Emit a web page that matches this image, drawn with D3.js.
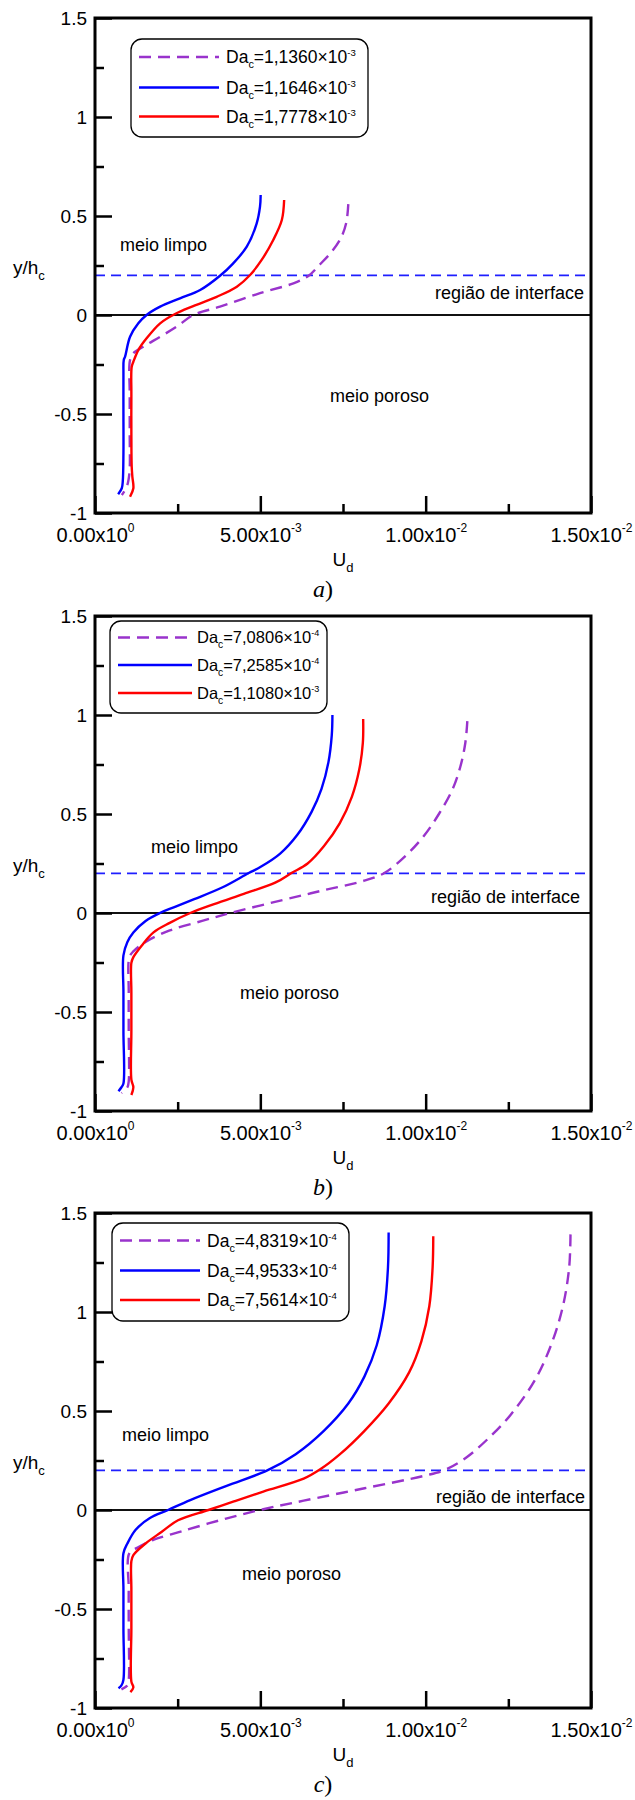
<!DOCTYPE html>
<html>
<head>
<meta charset="utf-8">
<script src="https://cdn.jsdelivr.net/npm/d3@7"></script>
<style>
    body { margin: 0; background: #fff; }
    svg { display: block; font-family: "Liberation Sans", Arial, sans-serif; }
</style>
</head>
<body>
<svg id="chart" width="635" height="1800"></svg>
<script>
// axis ticks (x values are U_d in units of 1e-3)
const yTicks = [-1, -0.5, 0, 0.5, 1, 1.5];
const yMinorTicks = [-0.75, -0.25, 0.25, 0.75, 1.25];
const yTickLabels = ["-1", "-0.5", "0", "0.5", "1", "1.5"];
const xTicks = [0, 5, 10, 15];
const xMinorTicks = [2.5, 7.5, 12.5];
const xTickMantissa = ["0.00x10", "5.00x10", "1.00x10", "1.50x10"];
const xTickExponent = ["0", "-3", "-2", "-2"];
const interfaceLevel = 0.2;

const captions = ["a", "b", "c"];

// Da_c of each curve, order: dashed purple, blue, red
const legendA = [["1,1360", "-3"], ["1,1646", "-3"], ["1,7778", "-3"]];
const legendB = [["7,0806", "-4"], ["7,2585", "-4"], ["1,1080", "-3"]];
const legendC = [["4,8319", "-4"], ["4,9533", "-4"], ["7,5614", "-4"]];

// profiles [U_d x1e3, y/h_c]
const aPurple = [[0.81,-0.909],[0.96,-0.867],[1.04,-0.8],[1.05,-0.6],[1.05,-0.4],[1.06,-0.227],[1.16,-0.193],[1.46,-0.16],[1.97,-0.11],[2.47,-0.059],[2.97,0],[3.78,0.042],[4.99,0.11],[6.0,0.16],[6.45,0.197],[6.8,0.255],[7.17,0.322],[7.44,0.39],[7.6,0.467],[7.66,0.56]];
const aBlue = [[0.70,-0.905],[0.81,-0.875],[0.84,-0.84],[0.86,-0.7],[0.86,-0.5],[0.86,-0.3],[0.87,-0.227],[0.91,-0.21],[1.06,-0.11],[1.31,-0.042],[1.56,0],[1.97,0.042],[2.57,0.084],[3.18,0.126],[3.78,0.198],[4.18,0.261],[4.59,0.345],[4.89,0.463],[4.99,0.547],[5.01,0.606]];
const aRed = [[1.06,-0.918],[1.16,-0.875],[1.13,-0.817],[1.11,-0.766],[1.10,-0.6],[1.10,-0.4],[1.11,-0.261],[1.16,-0.236],[1.31,-0.177],[1.56,-0.118],[1.97,-0.042],[2.42,0.005],[2.97,0.045],[3.68,0.092],[4.29,0.143],[4.69,0.202],[5.04,0.278],[5.39,0.379],[5.65,0.48],[5.72,0.581]];

const bPurple = [[0.80,-0.909],[0.98,-0.88],[1.02,-0.85],[1.02,-0.6],[1.02,-0.4],[1.04,-0.223],[1.16,-0.194],[1.53,-0.146],[2.26,-0.088],[3.24,-0.04],[4.10,0],[5.69,0.066],[6.92,0.115],[8.14,0.163],[8.75,0.202],[9.40,0.29],[9.95,0.39],[10.40,0.5],[10.80,0.62],[11.05,0.74],[11.20,0.86],[11.26,0.969]];
const bBlue = [[0.71,-0.9],[0.80,-0.88],[0.86,-0.861],[0.86,-0.6],[0.86,-0.4],[0.86,-0.214],[0.98,-0.146],[1.16,-0.098],[1.53,-0.04],[1.96,0],[2.40,0.03],[3.00,0.07],[3.86,0.13],[4.65,0.202],[5.00,0.232],[5.60,0.3],[6.12,0.395],[6.55,0.511],[6.85,0.627],[7.06,0.762],[7.16,0.897],[7.18,1.0]];
const bRed = [[1.10,-0.919],[1.16,-0.88],[1.10,-0.842],[1.10,-0.6],[1.10,-0.4],[1.10,-0.252],[1.16,-0.223],[1.41,-0.165],[1.77,-0.098],[2.26,-0.05],[2.88,0],[3.60,0.045],[4.50,0.097],[5.45,0.153],[5.94,0.202],[6.43,0.25],[6.92,0.337],[7.40,0.453],[7.77,0.588],[7.99,0.723],[8.10,0.859],[8.11,0.98]];

const cPurple = [[0.80,-0.906],[0.98,-0.886],[1.02,-0.857],[1.02,-0.6],[1.02,-0.4],[1.04,-0.218],[1.29,-0.19],[1.78,-0.15],[2.63,-0.107],[3.86,-0.048],[5.09,0.004],[6.31,0.047],[8.15,0.11],[9.99,0.174],[10.60,0.204],[11.21,0.263],[11.83,0.351],[12.56,0.479],[13.30,0.655],[13.79,0.832],[14.15,1.029],[14.34,1.225],[14.38,1.392]];
const cBlue = [[0.71,-0.9],[0.80,-0.886],[0.86,-0.857],[0.86,-0.6],[0.86,-0.4],[0.86,-0.218],[0.98,-0.169],[1.23,-0.1],[1.65,-0.042],[2.21,0],[2.88,0.05],[3.98,0.122],[5.21,0.2],[6.07,0.282],[6.92,0.4],[7.66,0.538],[8.15,0.675],[8.52,0.832],[8.76,1.029],[8.86,1.225],[8.88,1.402]];
const cRed = [[1.07,-0.92],[1.16,-0.896],[1.10,-0.867],[1.10,-0.6],[1.10,-0.4],[1.10,-0.258],[1.16,-0.228],[1.53,-0.169],[2.02,-0.11],[2.51,-0.052],[3.43,0],[4.20,0.043],[5.09,0.093],[6.31,0.158],[6.80,0.204],[7.41,0.282],[8.15,0.4],[8.88,0.538],[9.50,0.695],[9.87,0.852],[10.11,1.029],[10.21,1.225],[10.23,1.382]];

const styles = [
    {color: "#9933cc", dash: "12,7"},
    {color: "#0000ff", dash: null},
    {color: "#ff0000", dash: null}
];

// layout
let plotLeft = 95,
    plotWidth = 496,
    plotHeight = 495;

const panels = [
    {top: 18, series: [aPurple, aBlue, aRed], legend: legendA,
     box: {x: 131, y: 21, w: 237, h: 98, rows: [18, 48.5, 77.5], font: 17.5, line: 80, textX: 95},
     notes: {limpo: [120, 233], inter: [584, 281], poroso: [330, 384]}},
    {top: 616, series: [bPurple, bBlue, bRed], legend: legendB,
     box: {x: 110, y: 5, w: 217, h: 92, rows: [16.5, 44, 72], font: 16.5, line: 74, textX: 87},
     notes: {limpo: [151, 237], inter: [580, 287], poroso: [240, 383]}},
    {top: 1213, series: [cPurple, cBlue, cRed], legend: legendC,
     box: {x: 112, y: 10, w: 237, h: 98, rows: [17.5, 47.5, 77], font: 17.5, line: 80, textX: 95},
     notes: {limpo: [122, 228], inter: [585, 290], poroso: [242, 367]}}
];

const svg = d3.select("#chart");
svg.append("rect").attr("width", 635).attr("height", 1800).attr("fill", "#fff");

panels.forEach((p, i) => drawPanel(p, i));

function drawPanel(p, idx) {
    let g = svg.append("g");
    let bottom = p.top + plotHeight;

    let x = d3.scaleLinear().domain([0, 15]).range([plotLeft, plotLeft + plotWidth]);
    let y = d3.scaleLinear().domain([-1, 1.5]).range([bottom, p.top]);

    // interface and zero lines
    g.append("line")
        .attr("x1", x(0)).attr("x2", x(15))
        .attr("y1", y(interfaceLevel)).attr("y2", y(interfaceLevel))
        .attr("stroke", "#1f1fff")
        .attr("stroke-width", 1.8)
        .attr("stroke-dasharray", "10,6");
    g.append("line")
        .attr("x1", x(0)).attr("x2", x(15))
        .attr("y1", y(0)).attr("y2", y(0))
        .attr("stroke", "#111")
        .attr("stroke-width", 2);

    // curves
    let line = d3.line()
        .x(d => x(d[0]))
        .y(d => y(d[1]))
        .curve(d3.curveCatmullRom.alpha(0.5));
    p.series.forEach((s, k) => {
        let sorted = s.slice().sort((a, b) => b[1] - a[1]);
        g.append("path")
            .attr("d", line(sorted))
            .attr("fill", "none")
            .attr("stroke", styles[k].color)
            .attr("stroke-width", 2.4)
            .attr("stroke-dasharray", styles[k].dash);
    });

    // axes
    let xAxis = g.append("g")
        .attr("transform", "translate(0," + bottom + ")")
        .call(d3.axisBottom(x).tickValues(xTicks).tickSize(-17).tickPadding(15)
            .tickFormat((d, i) => xTickMantissa[i]));
    xAxis.select(".domain").remove();
    xAxis.selectAll(".tick line").attr("stroke-width", 2.5);
    xAxis.selectAll(".tick text")
        .attr("font-family", "Liberation Sans, Arial, sans-serif")
        .attr("font-size", 20)
        .attr("fill", "#000")
        .each(function (d, i) {
            let t = d3.select(this);
            t.text(null);
            t.append("tspan").text(xTickMantissa[i]);
            t.append("tspan").attr("dy", -10).attr("font-size", 12).text(xTickExponent[i]);
        });
    let xMinor = g.append("g")
        .attr("transform", "translate(0," + bottom + ")")
        .call(d3.axisBottom(x).tickValues(xMinorTicks).tickSize(-9).tickFormat(""));
    xMinor.select(".domain").remove();
    xMinor.selectAll(".tick line").attr("stroke-width", 2.5);

    let yAxis = g.append("g")
        .attr("transform", "translate(" + plotLeft + ",0)")
        .call(d3.axisLeft(y).tickValues(yTicks).tickSize(-17).tickPadding(8)
            .tickFormat((d, i) => yTickLabels[i]));
    yAxis.select(".domain").remove();
    yAxis.selectAll(".tick line").attr("stroke-width", 2.5);
    yAxis.selectAll(".tick text")
        .attr("font-family", "Liberation Sans, Arial, sans-serif")
        .attr("font-size", 19)
        .attr("fill", "#000");
    let yMinor = g.append("g")
        .attr("transform", "translate(" + plotLeft + ",0)")
        .call(d3.axisLeft(y).tickValues(yMinorTicks).tickSize(-9).tickFormat(""));
    yMinor.select(".domain").remove();
    yMinor.selectAll(".tick line").attr("stroke-width", 2.5);

    // frame
    g.append("rect")
        .attr("x", x(0)).attr("y", y(1.5))
        .attr("width", x(15) - x(0)).attr("height", y(-1) - y(1.5))
        .attr("fill", "none")
        .attr("stroke", "#000")
        .attr("stroke-width", 3);

    // region notes
    let note = (pos, txt, anchor) => g.append("text")
        .attr("x", pos[0]).attr("y", p.top + pos[1])
        .attr("font-size", 18)
        .attr("text-anchor", anchor)
        .text(txt);
    note(p.notes.limpo, "meio limpo", "start");
    note(p.notes.inter, "região de interface", "end");
    note(p.notes.poroso, "meio poroso", "start");

    // legend
    let b = p.box;
    let lg = g.append("g").attr("transform", "translate(" + b.x + "," + (p.top + b.y) + ")");
    lg.append("rect")
        .attr("width", b.w).attr("height", b.h)
        .attr("rx", 11).attr("ry", 11)
        .attr("fill", "#fff")
        .attr("stroke", "#000")
        .attr("stroke-width", 1.3);
    p.legend.forEach((e, k) => {
        let ry = b.rows[k];
        lg.append("line")
            .attr("x1", 8).attr("x2", 8 + b.line)
            .attr("y1", ry).attr("y2", ry)
            .attr("stroke", styles[k].color)
            .attr("stroke-width", 2.4)
            .attr("stroke-dasharray", styles[k].dash);
        let t = lg.append("text")
            .attr("x", b.textX).attr("y", ry + b.font * 0.36)
            .attr("font-size", b.font);
        t.append("tspan").text("Da");
        t.append("tspan").attr("dy", 5).attr("font-size", b.font * 0.62).text("c");
        t.append("tspan").attr("dy", -5).text("=" + e[0] + "\u00d710");
        t.append("tspan").attr("dy", -7).attr("font-size", b.font * 0.55).text(e[1]);
    });

    // axis titles
    let yl = g.append("text")
        .attr("x", 13).attr("y", p.top + 256)
        .attr("font-size", 19);
    yl.append("tspan").text("y/h");
    yl.append("tspan").attr("dy", 6).attr("font-size", 13).text("c");

    let xl = g.append("text")
        .attr("x", plotLeft + plotWidth / 2).attr("y", bottom + 53)
        .attr("text-anchor", "middle")
        .attr("font-size", 19);
    xl.append("tspan").text("U");
    xl.append("tspan").attr("dy", 6).attr("font-size", 13).text("d");

    let cap = g.append("text")
        .attr("x", 323).attr("y", bottom + 84)
        .attr("text-anchor", "middle")
        .attr("font-family", "Liberation Serif, Times New Roman, serif")
        .attr("font-size", 24);
    cap.append("tspan").attr("font-style", "italic").text(captions[idx]);
    cap.append("tspan").text(")");
}
</script>
</body>
</html>
